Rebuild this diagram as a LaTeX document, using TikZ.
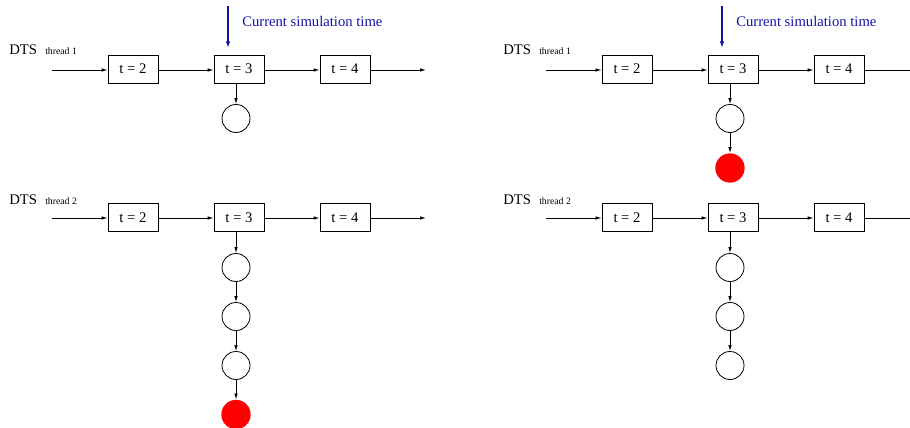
\documentclass[tikz,border=0pt]{standalone}
\usepackage{fontspec}
\setmainfont{Liberation Serif}
\usetikzlibrary{arrows.meta}
\definecolor{simblue}{RGB}{20,20,165}
\definecolor{evred}{RGB}{255,0,0}
\tikzset{
  every picture/.style={x=0.75pt,y=-0.75pt},
  tbox/.style={draw,line width=0.6pt,minimum width=37.5pt,minimum height=21pt,inner sep=0pt,font=\fontsize{11}{13}\selectfont},
  ev/.style={draw,circle,line width=0.6pt,minimum size=21pt,inner sep=0pt},
  evdone/.style={circle,fill=evred,minimum size=22pt,inner sep=0pt},
  link/.style={line width=0.6pt,-{Latex[length=4.5pt,width=2.6pt]}},
  nowarrow/.style={draw=simblue,line width=1.3pt,-{Latex[length=5pt,width=3.4pt]}},
  nowlabel/.style={text=simblue,anchor=base west,inner sep=0pt,font=\fontsize{11}{13}\selectfont},
  dts/.style={anchor=base west,inner sep=0pt,font=\fontsize{11}{13}\selectfont},
  thr/.style={anchor=base west,inner sep=0pt,font=\fontsize{7.3}{9}\selectfont},
}
\begin{document}
\begin{tikzpicture}
\clip (0,0) rectangle (910,428);
\useasboundingbox (0,0) rectangle (910,428);

% ---------- left panel ----------
% thread 1
\node[dts] (la1) at (9,55) {DTS};
\node[thr] (la1t) at (45,55) {thread 1};
\coordinate (la1in) at (52,70);
\node[tbox] (la12) at (133,69) {t = 2};
\node[tbox] (la13) at (239,69) {t = 3};
\node[tbox] (la14) at (345,69) {t = 4};
\coordinate (la1out) at (426,70);
\draw[link] (la1in) -- (la12.west |- la1in);
\draw[link] (la12.east |- la1in) -- (la13.west |- la1in);
\draw[link] (la13.east |- la1in) -- (la14.west |- la1in);
\draw[link] (la14.east |- la1in) -- (la1out);
\node[ev] (la1e1) at (236,118.5) {};
\draw[link] (la13.south -| la1e1) -- (la1e1);
% current time marker
\coordinate (lnowtop) at (228,6);
\coordinate (lnowtip) at (228,48);
\draw[nowarrow] (lnowtop) -- (lnowtip);
\node[nowlabel] (lnow) at (242,27) {Current simulation time};

% thread 2
\node[dts] (la2) at (9,204) {DTS};
\node[thr] (la2t) at (45,204) {thread 2};
\coordinate (la2in) at (52,218);
\node[tbox] (la22) at (133,217.5) {t = 2};
\node[tbox] (la23) at (239,217.5) {t = 3};
\node[tbox] (la24) at (345,217.5) {t = 4};
\coordinate (la2out) at (426,218);
\draw[link] (la2in) -- (la22.west |- la2in);
\draw[link] (la22.east |- la2in) -- (la23.west |- la2in);
\draw[link] (la23.east |- la2in) -- (la24.west |- la2in);
\draw[link] (la24.east |- la2in) -- (la2out);
\node[ev] (la2e1) at (236,267.5) {};
\node[ev] (la2e2) at (236,316.5) {};
\node[ev] (la2e3) at (236,365.5) {};
\node[evdone] (la2e4) at (236,414.5) {};
\draw[link] (la23.south -| la2e1) -- (la2e1);
\draw[link] (la2e1) -- (la2e2);
\draw[link] (la2e2) -- (la2e3);
\draw[link] (la2e3) -- (la2e4);

% ---------- right panel ----------
% thread 1
\node[dts] (rb1) at (503,55) {DTS};
\node[thr] (rb1t) at (539,55) {thread 1};
\coordinate (rb1in) at (546,70);
\node[tbox] (rb12) at (627,69) {t = 2};
\node[tbox] (rb13) at (733,69) {t = 3};
\node[tbox] (rb14) at (839,69) {t = 4};
\coordinate (rb1out) at (920,70);
\draw[link] (rb1in) -- (rb12.west |- rb1in);
\draw[link] (rb12.east |- rb1in) -- (rb13.west |- rb1in);
\draw[link] (rb13.east |- rb1in) -- (rb14.west |- rb1in);
\draw[link] (rb14.east |- rb1in) -- (rb1out);
\node[ev] (rb1e1) at (730,118.5) {};
\node[evdone] (rb1e2) at (730,168) {};
\draw[link] (rb13.south -| rb1e1) -- (rb1e1);
\draw[link] (rb1e1) -- (rb1e2);
% current time marker
\coordinate (rnowtop) at (722,6);
\coordinate (rnowtip) at (722,48);
\draw[nowarrow] (rnowtop) -- (rnowtip);
\node[nowlabel] (rnow) at (736,27) {Current simulation time};

% thread 2
\node[dts] (rb2) at (503,204) {DTS};
\node[thr] (rb2t) at (539,204) {thread 2};
\coordinate (rb2in) at (546,218);
\node[tbox] (rb22) at (627,217.5) {t = 2};
\node[tbox] (rb23) at (733,217.5) {t = 3};
\node[tbox] (rb24) at (839,217.5) {t = 4};
\coordinate (rb2out) at (920,218);
\draw[link] (rb2in) -- (rb22.west |- rb2in);
\draw[link] (rb22.east |- rb2in) -- (rb23.west |- rb2in);
\draw[link] (rb23.east |- rb2in) -- (rb24.west |- rb2in);
\draw[link] (rb24.east |- rb2in) -- (rb2out);
\node[ev] (rb2e1) at (730,267.5) {};
\node[ev] (rb2e2) at (730,316.5) {};
\node[ev] (rb2e3) at (730,365.5) {};
\draw[link] (rb23.south -| rb2e1) -- (rb2e1);
\draw[link] (rb2e1) -- (rb2e2);
\draw[link] (rb2e2) -- (rb2e3);
\end{tikzpicture}
\end{document}
